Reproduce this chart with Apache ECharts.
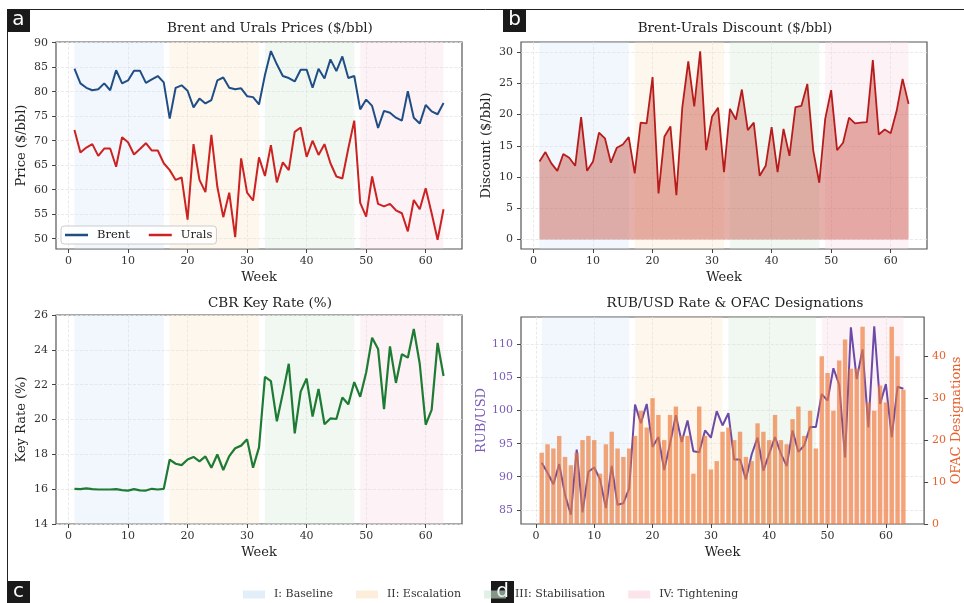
<!DOCTYPE html>
<html>
<head>
<meta charset="utf-8">
<script src="https://cdn.jsdelivr.net/npm/echarts@6/dist/echarts.min.js"></script>
<style>
  html, body { margin: 0; padding: 0; background: #fff; }
  #container { width: 964px; height: 603px; }
</style>
</head>
<body>
<div id="container"></div>
<script>
// weeks on the x axis
var weeks = [1,2,3,4,5,6,7,8,9,10,11,12,13,14,15,16,17,18,19,20,21,22,23,24,25,26,27,28,29,30,
  31,32,33,34,35,36,37,38,39,40,41,42,43,44,45,46,47,48,49,50,51,52,53,54,55,56,57,58,59,60,61,62,63];

// panel a - prices ($/bbl)
var brent = [84.7,81.7,80.8,80.3,80.5,81.7,80.3,84.4,81.7,82.3, 84.3,84.3,81.8,82.5,83.2,81.9,74.5,80.8,81.3,80.2,
  76.8,78.6,77.6,78.3,82.3,82.9,80.8,80.5,80.7,79.1, 78.9,77.4,83.4,88.3,85.6,83.2,82.8,82.1,84.5,84.5,
  80.8,84.7,82.7,86.6,84.2,87.2,82.8,83.2,76.4,78.4, 77.1,72.6,76.1,75.7,74.7,74.1,80.1,74.7,73.5,77.3,
  76.0,75.4,77.7];
var urals = [72.2,67.6,68.6,69.3,66.9,68.4,68.4,64.7,70.7,69.7, 67.2,68.3,69.5,68.0,68.0,65.4,64.0,62.0,62.5,53.9,
  69.3,62.0,59.5,71.2,60.6,54.4,59.4,50.3,66.4,59.4, 57.8,66.6,62.8,69.1,61.5,65.6,64.0,71.8,72.7,66.7,
  70.0,67.1,69.3,65.4,62.7,62.3,68.4,74.1,57.3,54.5, 62.7,57.1,56.6,57.1,55.8,55.2,51.5,57.9,56.0,60.3,
  55.2,49.8,56.0];

// panel b - discount ($/bbl)
var discount = [12.5,14.0,12.2,11.0,13.7,13.1,11.8,19.6,11.0,12.5, 17.1,16.2,12.3,14.7,15.2,16.4,10.6,18.7,18.6,26.0,
  7.4,16.5,18.1,7.1,21.2,28.5,21.3,30.1,14.3,19.7, 21.1,10.8,20.9,19.2,24.0,17.5,18.7,10.2,11.8,18.0,
  10.8,17.7,13.4,21.2,21.4,24.9,14.2,9.1,19.3,23.9, 14.3,15.5,19.5,18.6,18.7,18.8,28.7,16.8,17.6,17.0,
  20.6,25.7,21.7];

// panel c - CBR key rate (%)
var keyRate = [16.02,16.0,16.05,16.0,15.98,15.98,15.98,16.0,15.95,15.92, 16.0,15.93,15.92,16.02,15.98,16.02,17.7,17.46,17.38,17.7,
  17.85,17.6,17.88,17.23,17.99,17.1,17.9,18.35,18.5,18.86, 17.23,18.4,22.45,22.2,19.9,21.5,23.2,19.2,21.6,22.35,
  20.17,21.75,19.73,20.06,20.03,21.26,20.87,22.15,21.3,22.7, 24.7,24.05,20.6,24.2,22.1,23.75,23.55,25.2,23.2,19.7,
  20.55,24.4,22.5];

// panel d - RUB/USD and OFAC designations
var rubUsd = [92.1,90.6,88.85,91.9,87.25,84.25,94.1,84.6,90.75,91.4, 89.6,85.25,91.65,85.75,86.0,88.25,100.9,98.1,101.0,94.5,
  96.0,91.0,95.0,99.3,95.25,98.5,93.85,93.7,97.0,95.9, 99.9,97.75,99.6,92.6,92.6,89.6,93.4,95.9,90.9,93.5,
  96.0,93.5,91.6,97.0,93.75,94.75,97.5,97.5,102.5,101.5, 106.4,103.9,92.9,112.6,104.75,109.25,97.45,112.75,101.0,104.0,
  96.0,103.6,103.3];
var ofac = [17,19,18,21,16,14,17,20,21,20, 12,19,22,18,16,18,21,27,23,30,
  26,20,26,28,21,21,12,28,21,13, 15,22,23,20,22,16,15,24,22,20,
  26,20,19,25,28,21,27,18,40,36, 27,39,44,37,37,47,29,27,33,29,
  47,40,32];

// phases (week ranges)
var phaseNames = ['I: Baseline', 'II: Escalation', 'III: Stabilisation', 'IV: Tightening'];
var phaseStart = [1, 17, 33, 49];
var phaseEnd = [16, 32, 48, 63];
var phaseColors = ['#cfe5f6', '#fce3c4', '#cfe8d5', '#f8d3de'];

// tick labels
var weekTicks = [0, 10, 20, 30, 40, 50, 60];
var priceTicks = [50, 55, 60, 65, 70, 75, 80, 85, 90];
var discountTicks = [0, 5, 10, 15, 20, 25, 30];
var rubTicks = [85, 90, 95, 100, 105, 110];
var ofacTicks = [0, 10, 20, 30, 40];

var FONT = 'DejaVu Serif';
var dom = document.getElementById('container');
var myChart = echarts.init(dom, null, { renderer: 'canvas' });

function pairs(ys) {
  return weeks.map(function (w, i) { return [w, ys[i]]; });
}

function xAxisFor(idx, min, max) {
  return {
    type: 'value', gridIndex: idx, min: min, max: max,
    name: 'Week', nameLocation: 'middle', nameGap: 22,
    nameTextStyle: { fontFamily: FONT, fontSize: 13, color: '#222' },
    axisLine: { show: false, onZero: false },
    axisTick: { show: true, customValues: weekTicks, length: 4, lineStyle: { color: '#444' } },
    axisLabel: { customValues: weekTicks, fontFamily: FONT, fontSize: 11, color: '#333', margin: 7 },
    splitLine: { show: true, lineStyle: { type: 'dashed', color: '#e4e4e4', width: 0.8 } }
  };
}

function yAxisFor(min, max, ticks, name, color, pos, gap, grid) {
  return {
    type: 'value', gridIndex: grid, min: min, max: max, position: pos || 'left',
    name: name, nameLocation: 'middle', nameGap: gap,
    nameTextStyle: { fontFamily: FONT, fontSize: 13, color: color || '#222' },
    axisLine: { show: false, onZero: false },
    axisTick: { show: true, customValues: ticks, length: 4, lineStyle: { color: '#444' } },
    axisLabel: { customValues: ticks, fontFamily: FONT, fontSize: 11, color: color || '#333', margin: 8 },
    splitLine: { show: pos !== 'right', lineStyle: { type: 'dashed', color: '#e4e4e4', width: 0.8 } }
  };
}

var grids = [
  { left: 56, top: 42, width: 406, height: 207 },
  { left: 521, top: 42, width: 406, height: 207 },
  { left: 56, top: 315, width: 406, height: 209 },
  { left: 521, top: 317, width: 406, height: 207 }
].map(function (g) {
  g.show = true; g.borderColor = '#555'; g.borderWidth = 1.2; g.containLabel = false;
  return g;
});

var series = [];
// phase bands, one per panel per phase
for (var gi = 0; gi < 4; gi++) {
  for (var p = 0; p < phaseNames.length; p++) {
    series.push({
      type: 'line', name: phaseNames[p], xAxisIndex: gi, yAxisIndex: gi,
      data: [], symbol: 'none', z: 1,
      itemStyle: { color: phaseColors[p] },
      lineStyle: { width: 0 },
      markArea: {
        silent: true,
        itemStyle: { color: phaseColors[p], opacity: 0.3 },
        data: [[{ xAxis: phaseStart[p] }, { xAxis: phaseEnd[p] }]]
      }
    });
  }
}

series.push({
  type: 'line', name: 'Brent', xAxisIndex: 0, yAxisIndex: 0, data: pairs(brent),
  symbol: 'none', z: 3, itemStyle: { color: '#1f4e87' }, lineStyle: { color: '#1f4e87', width: 2 }
});
series.push({
  type: 'line', name: 'Urals', xAxisIndex: 0, yAxisIndex: 0, data: pairs(urals),
  symbol: 'none', z: 3, itemStyle: { color: '#cc2222' }, lineStyle: { color: '#cc2222', width: 2 }
});
series.push({
  type: 'line', name: 'Discount', xAxisIndex: 1, yAxisIndex: 1, data: pairs(discount),
  symbol: 'none', z: 3, itemStyle: { color: '#b71c1c' }, lineStyle: { color: '#b71c1c', width: 1.8 },
  areaStyle: { color: '#c0392b', opacity: 0.4 }
});
series.push({
  type: 'line', name: 'Key Rate', xAxisIndex: 2, yAxisIndex: 2, data: pairs(keyRate),
  symbol: 'none', z: 3, itemStyle: { color: '#1e7b34' }, lineStyle: { color: '#1e7b34', width: 2.2 }
});
series.push({
  type: 'line', name: 'RUB/USD', xAxisIndex: 3, yAxisIndex: 3, data: pairs(rubUsd),
  symbol: 'none', z: 3, itemStyle: { color: '#6c4aa8' }, lineStyle: { color: '#6c4aa8', width: 2 }
});
series.push({
  type: 'bar', name: 'OFAC', xAxisIndex: 3, yAxisIndex: 4, data: pairs(ofac),
  barWidth: 4.4, z: 4, itemStyle: { color: '#ee7a3a', opacity: 0.68 }
});

var option = {
  animation: false,
  backgroundColor: '#fff',
  textStyle: { fontFamily: FONT },
  title: [
    { text: 'Brent and Urals Prices ($/bbl)', left: 270, top: 21, textAlign: 'center' },
    { text: 'Brent-Urals Discount ($/bbl)', left: 735, top: 21, textAlign: 'center' },
    { text: 'CBR Key Rate (%)', left: 270, top: 296, textAlign: 'center' },
    { text: 'RUB/USD Rate & OFAC Designations', left: 735, top: 296, textAlign: 'center' }
  ].map(function (t) {
    t.padding = 0;
    t.textStyle = { fontFamily: FONT, fontSize: 13.5, fontWeight: 'normal', color: '#222' };
    return t;
  }),
  legend: [
    {
      data: phaseNames, left: 243, top: 589, icon: 'rect', itemWidth: 22, itemHeight: 8, itemGap: 23,
      padding: 0, textStyle: { fontFamily: FONT, fontSize: 11, color: '#333', padding: [0, 0, 0, 4] },
      itemStyle: { opacity: 0.6 }, lineStyle: { width: 0 }
    },
    {
      data: [{ name: 'Brent', icon: 'rect' }, { name: 'Urals', icon: 'rect' }],
      left: 61, top: 226, itemWidth: 23, itemHeight: 2.5, itemGap: 19,
      padding: [3, 4, 3, 4], borderColor: '#ccc', borderWidth: 1, borderRadius: 3,
      backgroundColor: 'rgba(255,255,255,0.85)',
      textStyle: { fontFamily: FONT, fontSize: 11.5, color: '#222', padding: [0, 0, 0, 4], lineHeight: 12 }
    }
  ],
  grid: grids,
  xAxis: [
    xAxisFor(0, -2.1, 66.1),
    xAxisFor(1, -2.1, 66.1),
    xAxisFor(2, -2.1, 66.1),
    xAxisFor(3, -2.55, 66.55)
  ],
  yAxis: [
    yAxisFor(47.9, 90.15, priceTicks, 'Price ($/bbl)', null, 'left', 28, 0),
    yAxisFor(-1.5, 31.6, discountTicks, 'Discount ($/bbl)', null, 'left', 28, 1),
    {
      type: 'value', gridIndex: 2, min: 14, max: 26, interval: 2,
      name: 'Key Rate (%)', nameLocation: 'middle', nameGap: 28,
      nameTextStyle: { fontFamily: FONT, fontSize: 13, color: '#222' },
      axisLine: { show: false, onZero: false },
      axisTick: { show: true, length: 4, lineStyle: { color: '#444' } },
      axisLabel: { fontFamily: FONT, fontSize: 11, color: '#333', margin: 8 },
      splitLine: { show: true, lineStyle: { type: 'dashed', color: '#e4e4e4', width: 0.8 } }
    },
    yAxisFor(82.85, 114.15, rubTicks, 'RUB/USD', '#7b5cb8', 'left', 28, 3),
    yAxisFor(0, 49.35, ofacTicks, 'OFAC Designations', '#e8602c', 'right', 25, 3)
  ],
  series: series,
  graphic: [
    { type: 'line', shape: { x1: 7, y1: 9.5, x2: 964, y2: 9.5 }, style: { stroke: '#222', lineWidth: 1 } },
    { type: 'line', shape: { x1: 7.5, y1: 9, x2: 7.5, y2: 603 }, style: { stroke: '#222', lineWidth: 1 } }
  ].concat([['a', 7, 9], ['b', 503, 9], ['c', 7, 581], ['d', 491, 581]].map(function (l) {
    return {
      type: 'group', left: l[1], top: l[2], z: 100,
      children: [
        { type: 'rect', shape: { x: 0, y: 0, width: 23, height: 23 }, style: { fill: '#1a1a1a' } },
        { type: 'text', x: 11.5, y: 11, style: { text: l[0], fill: '#fff', font: '20px "DejaVu Sans"', textAlign: 'center', textVerticalAlign: 'middle' } }
      ]
    };
  }))
};

myChart.setOption(option);
</script>
</body>
</html>
